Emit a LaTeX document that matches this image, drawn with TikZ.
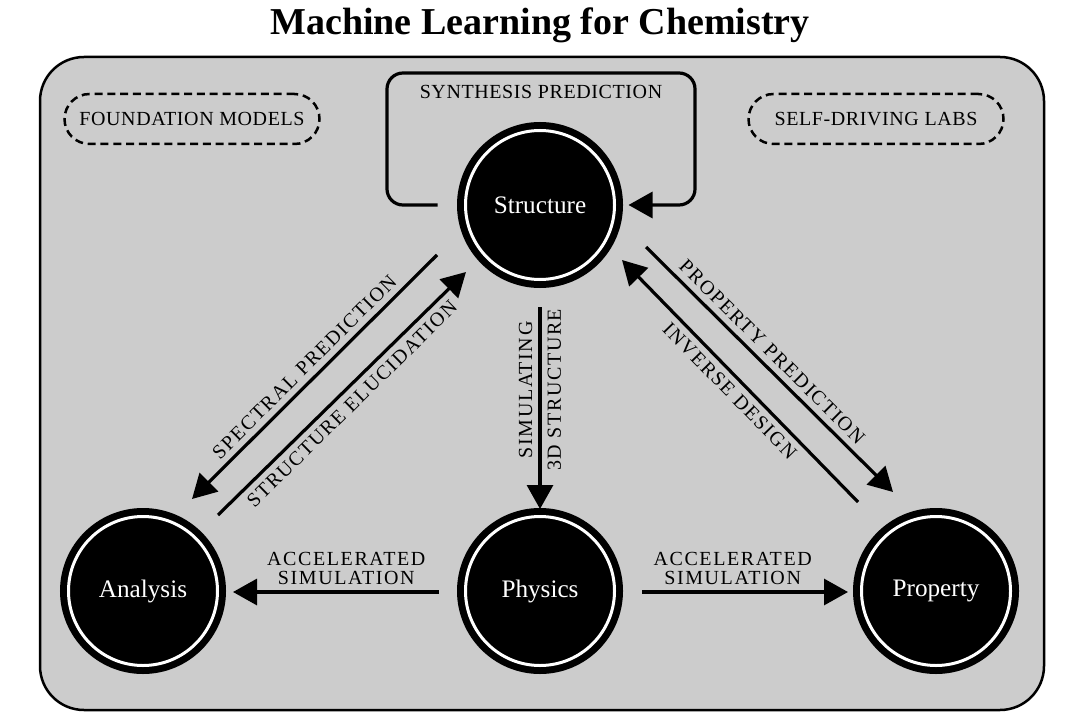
\documentclass[tikz,border=0pt]{standalone}
\usepackage{fontspec}
\setmainfont{Liberation Serif}
\usetikzlibrary{arrows.meta,positioning,calc}
\definecolor{panelgrey}{HTML}{CCCCCC}

\begin{document}
\begin{tikzpicture}[
  x=0.5pt, y=-0.5pt, node distance=124pt,
  hub/.style={circle, fill=black, draw=black, double=white, line width=3.5pt,
              double distance=1.5pt, minimum size=74.5pt, inner sep=0pt, outer sep=0pt,
              text=white, font=\fontsize{12.6}{14}\selectfont},
  tag/.style={draw=black, line width=1.25pt, dash pattern=on 4pt off 2.4pt,
              rounded corners=12.5pt, minimum width=127.5pt, minimum height=25pt,
              font=\fontsize{10}{12}\selectfont\addfontfeature{LetterSpace=3}},
  ar/.style={-{Triangle[length=12pt,width=13pt]}, line width=1.6pt},
  lab/.style={font=\fontsize{10}{9.5}\selectfont\addfontfeature{LetterSpace=8},
              inner sep=3pt, align=center},
  looplab/.style={font=\fontsize{10}{12}\selectfont\addfontfeature{LetterSpace=3},
              inner sep=3pt}]
\useasboundingbox (0,0) rectangle (1080,727);
\draw[line width=1.25pt, fill=panelgrey, rounded corners=22pt] (40,57) rectangle (1044,710);
\node[font=\fontsize{19}{22}\selectfont\bfseries] (title) at (540,25) {Machine Learning for Chemistry};
% the four hubs
\node[hub] (phys) at (540,591) {Physics};
\node[hub, left=of phys] (anal) {Analysis};
\node[hub, right=123.5pt of phys] (prop) {Property};
\node[hub, above=118.5pt of phys] (struc) {Structure};
\node[tag] (found) at (192,119) {FOUNDATION MODELS};
\node[tag] (sdl) at (876,119) {SELF-DRIVING LABS};
% synthesis loop
\draw[ar, rounded corners=8pt] ($(struc.west)+(-28,0)$) -| ($(struc)+(-153,-132)$)
  -| node[looplab, pos=0.25, below=2.5pt]{SYNTHESIS PREDICTION} ($(struc)+(155,0)$) -- ($(struc.east)+(14,0)$);
% structure <-> analysis
\draw[ar] ($(struc)+(-103,50)$) -- node[lab, sloped, above]{SPECTRAL PREDICTION} ($(anal)+(49,-92)$);
\draw[ar] ($(anal)+(75,-76)$) -- node[lab, sloped, below]{STRUCTURE ELUCIDATION} ($(struc)+(-74,67)$);
% structure <-> property
\draw[ar] ($(struc)+(106,42)$) -- node[lab, sloped, above, pos=0.47]{PROPERTY PREDICTION} ($(prop)+(-43,-99)$);
\draw[ar] ($(prop)+(-78,-89)$) -- node[lab, sloped, below]{INVERSE DESIGN} ($(struc)+(82,55)$);
% structure -> physics
\draw[ar] ($(struc)+(0,102)$) -- node[lab, rotate=90, anchor=south, pos=0.41]{SIMULATING}
  node[lab, rotate=90, anchor=north, pos=0.41]{3D STRUCTURE} ($(phys)+(0,-82)$);
% physics -> analysis / property
\draw[ar] ($(phys)+(-101,1)$) -- node[lab, above, pos=0.45]{ACCELERATED\\SIMULATION} ($(anal)+(90,1)$);
\draw[ar] ($(phys)+(102,1)$) -- node[lab, above, pos=0.44]{ACCELERATED\\SIMULATION} ($(prop)+(-88,1)$);
\end{tikzpicture}
\end{document}
